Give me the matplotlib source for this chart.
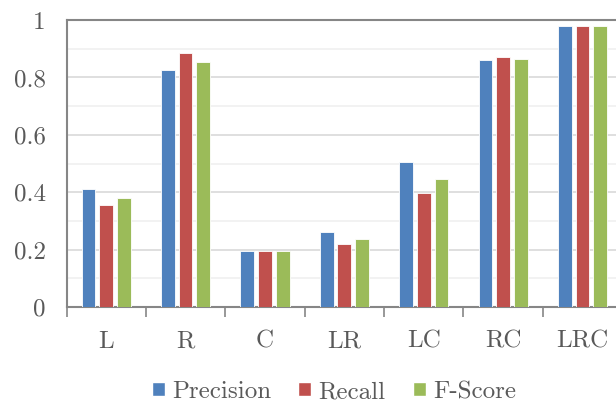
import matplotlib
matplotlib.use("Agg")
import matplotlib.pyplot as plt
from matplotlib.patches import Patch
import numpy as np

plt.rcParams['font.family'] = ['cmr10', 'DejaVu Serif']
plt.rcParams['axes.formatter.use_mathtext'] = True

categories = ['L', 'R', 'C', 'LR', 'LC', 'RC', 'LRC']
precision = [0.412, 0.825, 0.194, 0.261, 0.506, 0.861, 0.979]
recall = [0.356, 0.886, 0.197, 0.221, 0.398, 0.870, 0.979]
fscore = [0.381, 0.854, 0.196, 0.239, 0.445, 0.865, 0.979]
series = [('Precision', precision, '#4F81BD'),
          ('Recall', recall, '#C0504D'),
          ('F-Score', fscore, '#9BBB59')]

txt = '#595959'
axc = '#868686'

fig = plt.figure(figsize=(6.16, 4.0), dpi=100)
ax = fig.add_axes([0.108, 0.232, 0.902, 0.718])

x = np.arange(len(categories))
w = 0.173
step = 0.223
for i, (name, vals, col) in enumerate(series):
    ax.bar(x + (i - 1) * step, vals, width=w, color=col,
           edgecolor='white', linewidth=0.6, zorder=3)

ax.set_xlim(-0.5, len(categories) - 0.5)
ax.set_ylim(0, 1)
ax.set_yticks(np.arange(0, 1.01, 0.2))
ax.set_yticklabels(['0', '0.2', '0.4', '0.6', '0.8', '1'])
ax.set_yticks(np.arange(0.1, 1.0, 0.2), minor=True)
ax.grid(axis='y', which='major', color='#d9d9d9', linewidth=1.2, zorder=0)
ax.grid(axis='y', which='minor', color='#f0f0f0', linewidth=1.2, zorder=0)

ax.set_xticks(x)
ax.set_xticklabels(categories)
ax.set_xticks(np.arange(-0.5, len(categories), 1.0), minor=True)
ax.tick_params(axis='x', which='major', length=0, pad=17, labelsize=18, labelcolor=txt)
ax.tick_params(axis='x', which='minor', length=7, width=1.2, color=axc, direction='out')
ax.tick_params(axis='y', which='both', length=0, pad=15, labelsize=18, labelcolor=txt)

for s in ['left', 'bottom', 'top']:
    ax.spines[s].set_color(axc)
    ax.spines[s].set_linewidth(1.5)
ax.spines['right'].set_visible(False)

handles = [Patch(facecolor=c, edgecolor='white', label=n) for n, v, c in series]
fig.legend(handles=handles, loc='center', bbox_to_anchor=(0.542, 0.02), ncol=3,
           frameon=False, fontsize=18, labelcolor=txt, handlelength=0.52,
           handleheight=0.52, handletextpad=0.28, columnspacing=1.1,
           borderpad=0, borderaxespad=0)

fig.savefig('out.png', dpi=100)
